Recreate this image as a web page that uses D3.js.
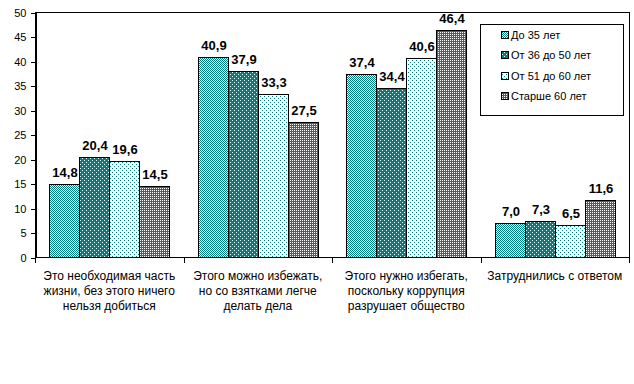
<!DOCTYPE html>
<html>
<head>
<meta charset="utf-8">
<script src="https://cdn.jsdelivr.net/npm/d3@7/dist/d3.min.js"></script>
<style>
  body { margin: 0; background: #fff; }
  svg { display: block; font-family: "Liberation Sans", Arial, sans-serif; }
  rect, line, path { shape-rendering: crispEdges; }
</style>
</head>
<body>
<div id="chart"></div>
<script>
// data
var categories = [
  ['Это необходимая часть', 'жизни, без этого ничего', 'нельзя добиться'],
  ['Этого можно избежать,', 'но со взятками легче', 'делать дела'],
  ['Этого нужно избегать,', 'поскольку коррупция', 'разрушает общество'],
  ['Затруднились с ответом']
]
var seriesNames = ['До 35 лет', 'От 36 до 50 лет', 'От 51 до 60 лет', 'Старше 60 лет']
var under35 = [14.8, 40.9, 37.4, 7.0]
var from36to50 = [20.4, 37.9, 34.4, 7.3]
var from51to60 = [19.6, 33.3, 40.6, 6.5]
var over60 = [14.5, 27.5, 46.4, 11.6]
var yTicks = [0, 5, 10, 15, 20, 25, 30, 35, 40, 45, 50]

var seriesValues = [under35, from36to50, from51to60, over60]

var width = 634, height = 384
var margin = {top: 12, right: 5, bottom: 127, left: 35}
var teal = '#008080'

var svg = d3.select('#chart').append('svg')
  .attr('width', width).attr('height', height)

// fill patterns, one per series
var defs = svg.append('defs')
var patterns = [
  {size: 2, bg: '#fff', dots: [[0, 0], [1, 1]], dot: teal},
  {size: 4, bg: teal, dots: [[0, 0], [2, 2]], dot: '#fff'},
  {size: 4, bg: '#fff', dots: [[0, 0], [2, 2]], dot: teal},
  {size: 2, bg: teal, dots: [[0, 0]], dot: '#fff'}
]
patterns.forEach(function(p, i) {
  var pat = defs.append('pattern').attr('id', 'pat' + i)
    .attr('patternUnits', 'userSpaceOnUse')
    .attr('width', p.size).attr('height', p.size)
  pat.append('rect').attr('width', p.size).attr('height', p.size).attr('fill', p.bg)
  p.dots.forEach(function(d) {
    pat.append('rect').attr('x', d[0]).attr('y', d[1]).attr('width', 1).attr('height', 1).attr('fill', p.dot)
  })
})

var x0 = d3.scaleBand()
  .domain(d3.range(categories.length))
  .range([margin.left, width - margin.right])
  .padding(0)

var x1 = d3.scaleBand()
  .domain(d3.range(seriesNames.length))
  .range([0, x0.bandwidth()])
  .paddingInner(0)
  .paddingOuter(0.475)

var y = d3.scaleLinear()
  .domain([0, 50])
  .range([height - margin.bottom, margin.top])

var y0 = Math.round(y(0))

// plot area frame
svg.append('rect')
  .attr('x', margin.left).attr('y', margin.top)
  .attr('width', width - margin.right - margin.left)
  .attr('height', y0 - margin.top)
  .attr('fill', 'none').attr('stroke', '#000')

// bars: fill and outline drawn apart so the pattern stays on whole pixels
seriesValues.forEach(function(vals, si) {
  var bars = svg.append('g').attr('class', 'series' + si)
  vals.forEach(function(v, ci) {
    var bx = Math.round(x0(ci) + x1(si))
    var by = Math.round(y(v))
    var bw = Math.round(x1.bandwidth())
    bars.append('rect')
      .attr('x', bx).attr('y', by)
      .attr('width', bw).attr('height', y0 - by)
      .attr('fill', 'url(#pat' + si + ')')
    bars.append('rect')
      .attr('x', bx + 0.5).attr('y', by + 0.5)
      .attr('width', bw).attr('height', y0 - by)
      .attr('fill', 'none')
      .attr('stroke', '#000')
    svg.append('text')
      .attr('x', bx + bw / 2 + 1)
      .attr('y', by - 7)
      .attr('text-anchor', 'middle')
      .attr('font-size', '13px')
      .attr('font-weight', 'bold')
      .text(d3.format('.1f')(v).replace('.', ','))
  })
})

// y axis
var yAxis = svg.append('g')
  .attr('transform', 'translate(' + (margin.left + 0.5) + ',0.5)')
  .call(d3.axisLeft(y).tickValues(yTicks).tickSize(5).tickPadding(4).tickSizeOuter(0))
yAxis.select('.domain').attr('stroke', '#000')
yAxis.selectAll('text').attr('font-size', '11px').attr('fill', '#000')
  .attr('font-family', '"Liberation Sans", Arial, sans-serif')

// x axis: ticks sit on the category boundaries
var xAxis = svg.append('g')
  .attr('transform', 'translate(0.5,' + (y0 + 0.5) + ')')
var bounds = d3.range(categories.length + 1).map(function(i) {
  return i < categories.length ? x0(i) : x0(i - 1) + x0.bandwidth()
})
xAxis.append('line')
  .attr('x1', margin.left).attr('x2', width - margin.right)
  .attr('stroke', '#000')
xAxis.selectAll('line.tick')
  .data(bounds)
  .enter().append('line')
  .attr('class', 'tick')
  .attr('x1', function(d) { return Math.round(d) })
  .attr('x2', function(d) { return Math.round(d) })
  .attr('y1', 0).attr('y2', 5)
  .attr('stroke', '#000')

// category labels
svg.selectAll('text.cat')
  .data(categories)
  .enter().append('text')
  .attr('class', 'cat')
  .attr('text-anchor', 'middle')
  .attr('font-size', '12px')
  .attr('fill', '#000')
  .each(function(lines, ci) {
    var t = d3.select(this)
    lines.forEach(function(line, li) {
      t.append('tspan')
        .attr('x', x0(ci) + x0.bandwidth() / 2)
        .attr('y', y0 + 23 + li * 15)
        .text(line)
    })
  })

// legend
var legend = svg.append('g').attr('transform', 'translate(480,24)')
legend.append('rect')
  .attr('x', 0.5).attr('y', 0.5)
  .attr('width', 143).attr('height', 91)
  .attr('fill', '#fff').attr('stroke', '#000')
seriesNames.forEach(function(name, i) {
  var ly = Math.round(11 + i * 20.3)
  legend.append('rect')
    .attr('x', 21).attr('y', ly - 4)
    .attr('width', 7).attr('height', 7)
    .attr('fill', 'url(#pat' + i + ')')
  legend.append('rect')
    .attr('x', 21.5).attr('y', ly - 3.5)
    .attr('width', 7).attr('height', 7)
    .attr('fill', 'none').attr('stroke', '#000')
  legend.append('text')
    .attr('x', 31).attr('y', ly + 4)
    .attr('font-size', '11px')
    .text(name)
})
</script>
</body>
</html>
